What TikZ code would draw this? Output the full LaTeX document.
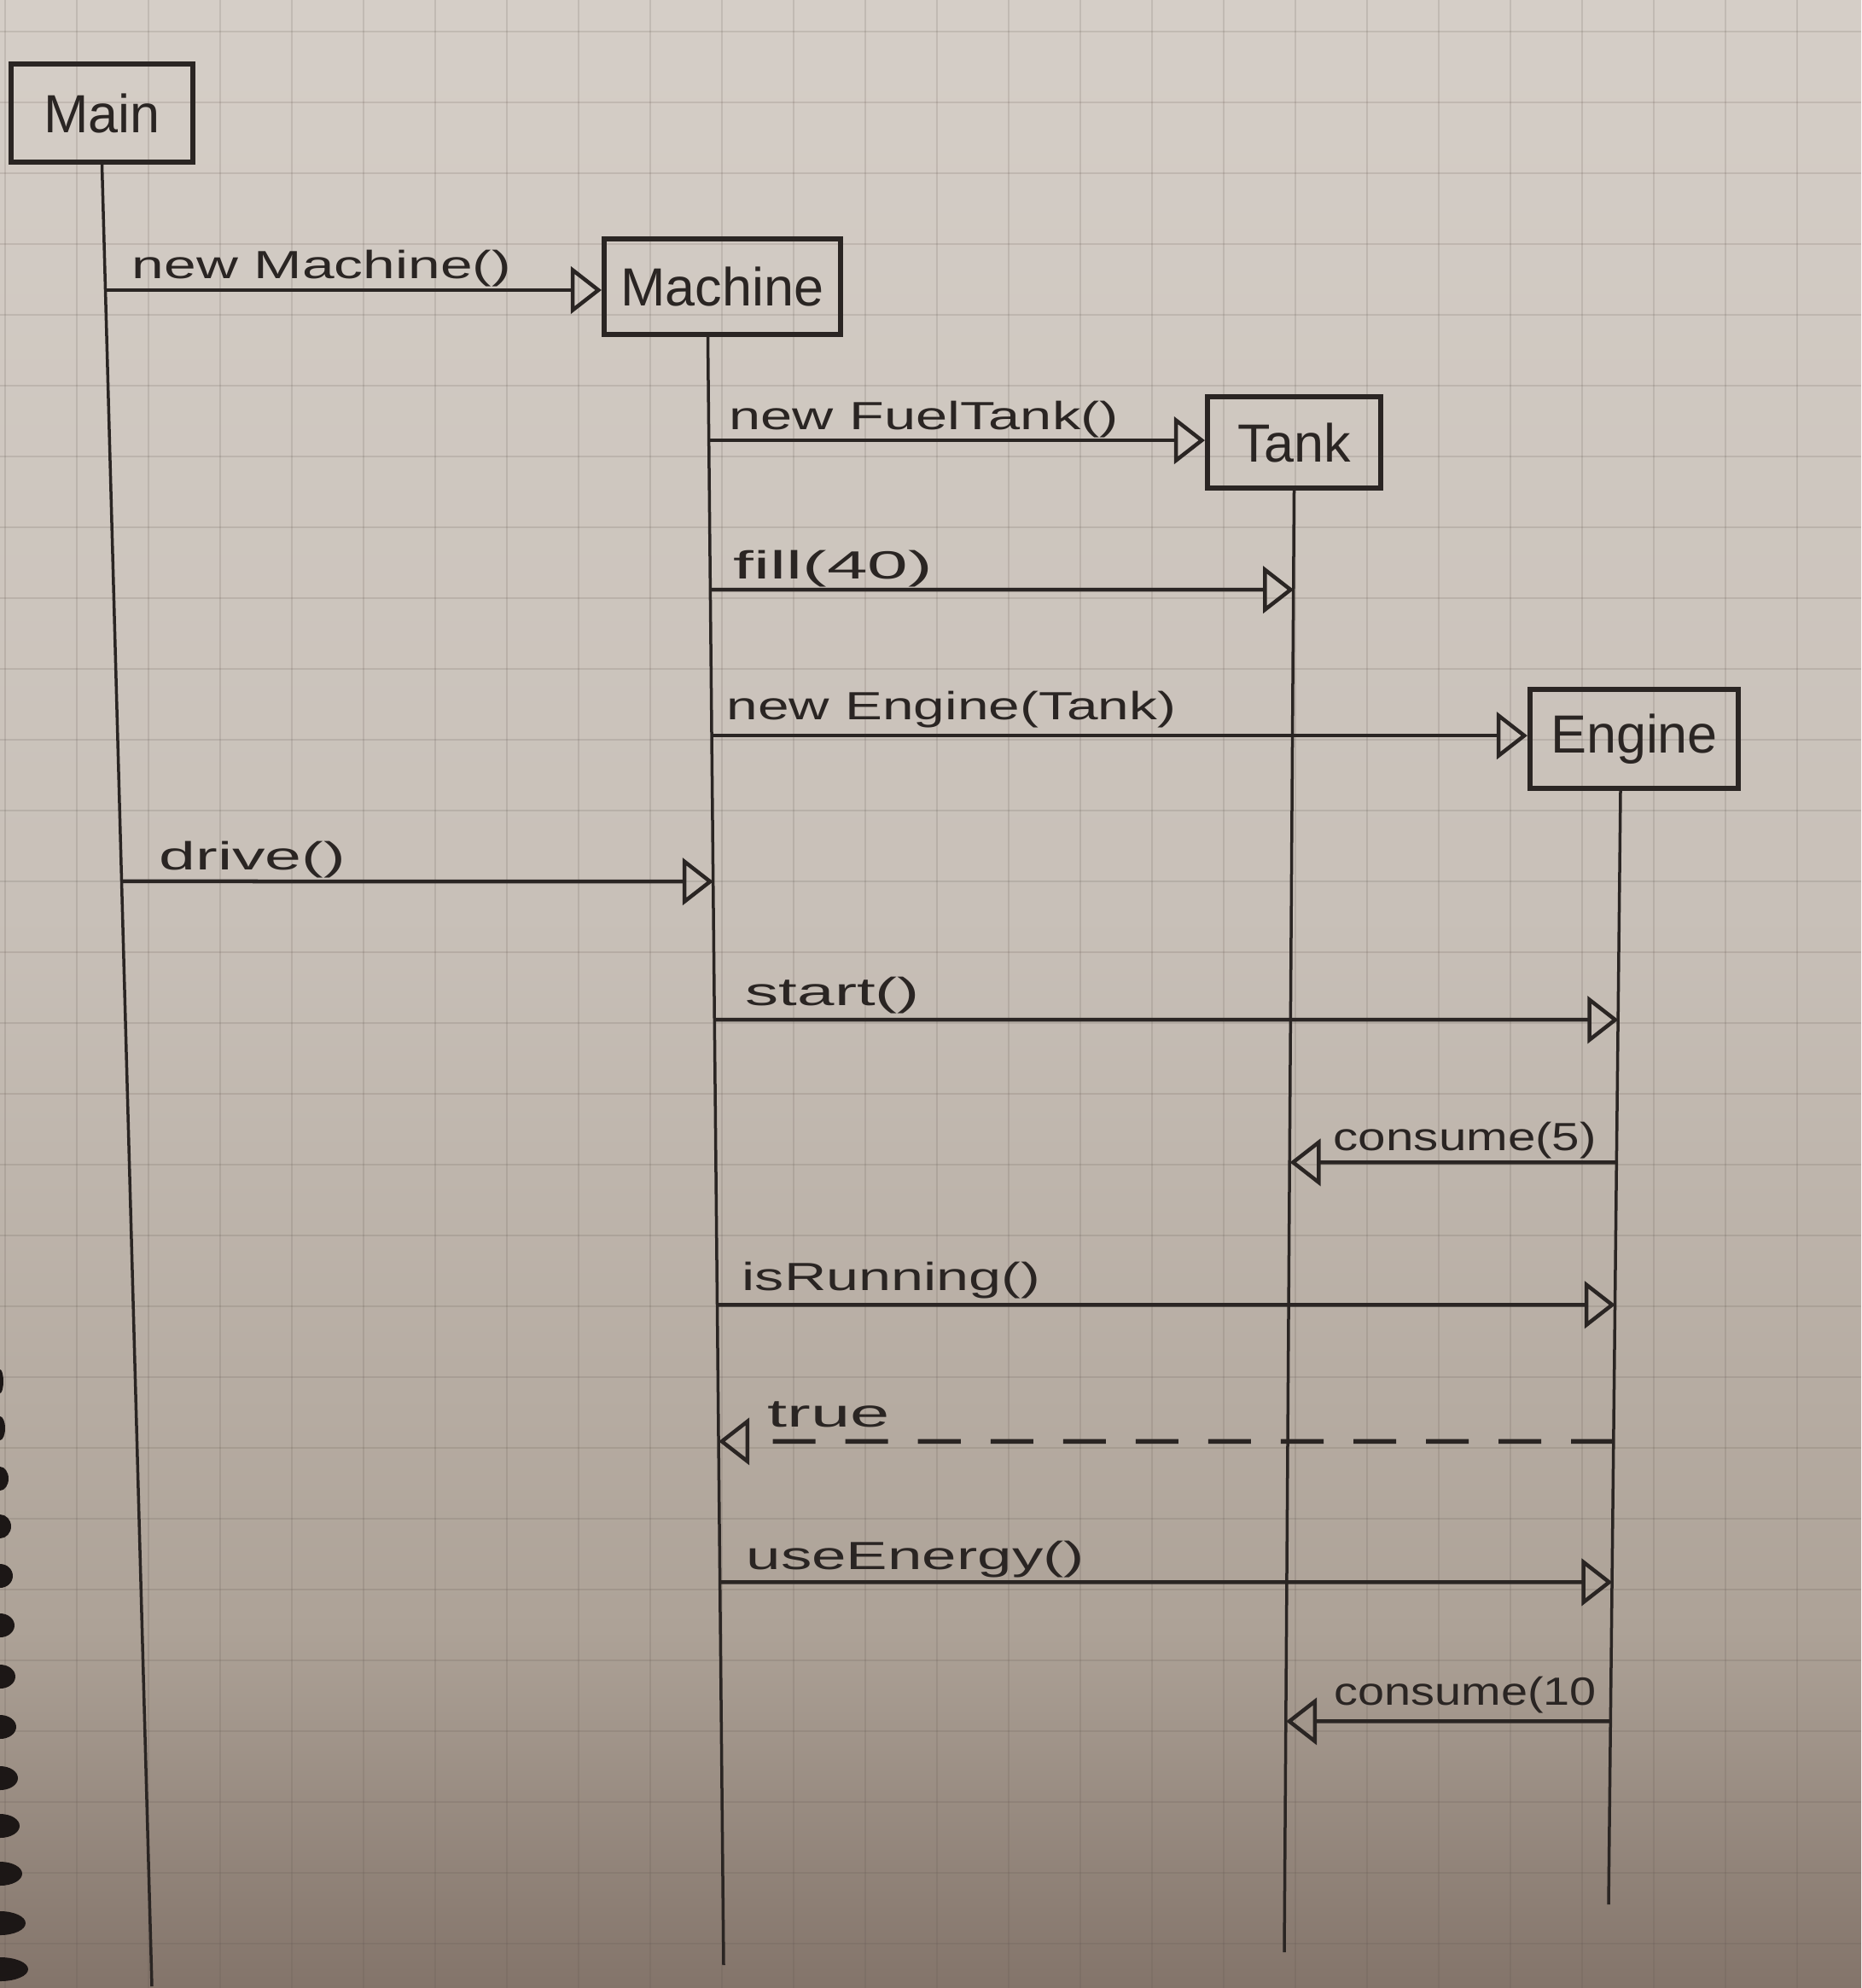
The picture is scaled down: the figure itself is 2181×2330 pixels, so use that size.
\documentclass[tikz,border=0pt]{standalone}
\usepackage{fontspec}
\setmainfont{Liberation Sans}
\usetikzlibrary{arrows.meta,calc}
\definecolor{ink}{HTML}{2A2523}
\definecolor{ptop}{HTML}{D5CEC7}
\definecolor{pmid}{HTML}{C8C0B8}
\definecolor{plow}{HTML}{ADA297}
\definecolor{pbot}{HTML}{83746A}
\definecolor{hole}{HTML}{1C1716}
\definecolor{gridc}{HTML}{5E534C}
\pgfdeclareverticalshading{paper}{100bp}{color(0bp)=(pbot); color(25bp)=(pbot); color(34bp)=(plow); color(52bp)=(pmid); color(75bp)=(ptop); color(100bp)=(ptop)}
\newsavebox\lblbox
\newlength\lblw
\newcommand\handlbl[2]{\sbox\lblbox{#2}\setlength\lblw{\wd\lblbox}\pgfmathsetmacro\lblr{#1*0.284528/\lblw}\scalebox{\lblr}[1]{\usebox\lblbox}}
\newcommand\onlife[3]{\coordinate (#1) at (intersection cs: first line={(#2top)--(#2bot)}, second line={(0,#3)--(100,#3)});}
\tikzset{
  box/.style={draw=ink, line width=0.06cm, rectangle, inner sep=0pt, font=\fontsize{17.9}{20}\selectfont, text=ink},
  lbl/.style={inner sep=0pt, anchor=base west, font=\fontsize{13.1}{15}\selectfont, text=ink},
  life/.style={draw=ink, line width=0.035cm},
  msg/.style={draw=ink, line width=0.045cm, -{Triangle[open, length=0.36cm, width=0.55cm, line width=0.045cm]}},
  ret/.style={msg, line width=0.055cm, dash pattern=on 0.5cm off 0.35cm},
  gridline/.style={draw=gridc, opacity=0.16, line width=0.02cm}
}
\begin{document}
\begin{tikzpicture}[x=0.01cm, y=-0.01cm]
\useasboundingbox (0,0) rectangle (2181,2330);
\shade[shading=paper] (0,0) rectangle (2181,2330);
\foreach \gx in {6,90,...,2181} \draw[gridline] (\gx,0) -- (\gx,2330);
\foreach \gy in {37,120,...,2330} \draw[gridline] (0,\gy) -- (2181,\gy);
\foreach \hy/\hr in {1619/4, 1674/6, 1733/10, 1789/13, 1847/15, 1905/17, 1965/18, 2024/19, 2084/21, 2140/23, 2196/26, 2254/30, 2308/33}
  \fill[hole] (0,\hy) ellipse [x radius={\hr*0.01cm}, y radius=0.14cm];

% participants
\node[box, minimum width=2.13cm, minimum height=1.15cm] (Main) at (119.5,132.5) {Main};
\node[box, minimum width=2.77cm, minimum height=1.12cm] (Machine) at (846.5,336) {Machine};
\node[box, minimum width=2.03cm, minimum height=1.07cm] (Tank) at (1516.5,518.5) {Tank};
\node[box, minimum width=2.44cm, minimum height=1.16cm] (Engine) at (1915,866) {Engine};

% lifelines
\coordinate (MNtop) at (Main.south);
\coordinate (MNbot) at (178,2328);
\coordinate (MAtop) at ($(Machine.south)+(-17,0)$);
\coordinate (MAbot) at (848,2303);
\coordinate (TKtop) at (Tank.south);
\coordinate (TKbot) at (1505,2288);
\coordinate (ENtop) at ($(Engine.south)+(-16,0)$);
\coordinate (ENbot) at (1885,2232);
\draw[life] (MNtop) -- (MNbot);
\draw[life] (MAtop) -- (MAbot);
\draw[life] (TKtop) -- (TKbot);
\draw[life] (ENtop) -- (ENbot);

% messages
\onlife{a1}{MN}{340}
\draw[msg] (a1) -- (a1 -| Machine.west);
\onlife{a2}{MA}{516}
\draw[msg] (a2) -- (a2 -| Tank.west);
\onlife{a3s}{MA}{691}\onlife{a3e}{TK}{691}
\draw[msg] (a3s) -- (a3e);
\onlife{a4}{MA}{862}
\draw[msg] (a4) -- (a4 -| Engine.west);
\onlife{a5s}{MN}{1033}\onlife{a5e}{MA}{1033}
\draw[msg] (a5s) -- (a5e);
\onlife{a6s}{MA}{1195}\onlife{a6e}{EN}{1195}
\draw[msg] (a6s) -- (a6e);
\onlife{a7s}{EN}{1362}\onlife{a7e}{TK}{1362}
\draw[msg] (a7s) -- (a7e);
\onlife{a8s}{MA}{1529}\onlife{a8e}{EN}{1529}
\draw[msg] (a8s) -- (a8e);
\onlife{a9s}{EN}{1689}\onlife{a9e}{MA}{1689}
\draw[ret] (a9s) -- (a9e);
\onlife{a10s}{MA}{1854}\onlife{a10e}{EN}{1854}
\draw[msg] (a10s) -- (a10e);
\onlife{a11s}{EN}{2017}\onlife{a11e}{TK}{2017}
\draw[msg] (a11s) -- (a11e);

% labels
\node[lbl] (l1) at (154,326) {\handlbl{444}{new Machine()}};
\node[lbl] (l2) at (854,503) {\handlbl{456}{new FuelTank()}};
\node[lbl] (l3) at (859,678) {\handlbl{233}{fill(40)}};
\node[lbl] (l4) at (851,843) {\handlbl{526}{new Engine(Tank)}};
\node[lbl] (l5) at (186,1019) {\handlbl{218}{drive()}};
\node[lbl] (l6) at (873,1178) {\handlbl{204}{start()}};
\node[lbl] (l7) at (1562,1348) {\handlbl{308}{consume(5)}};
\node[lbl] (l8) at (869,1512) {\handlbl{349}{isRunning()}};
\node[lbl] (l9) at (899,1672) {\handlbl{143}{true}};
\node[lbl] (l10) at (874,1839) {\handlbl{396}{useEnergy()}};
\node[lbl] (l11) at (1563,1998) {\handlbl{307}{consume(10}};
\end{tikzpicture}
\end{document}
